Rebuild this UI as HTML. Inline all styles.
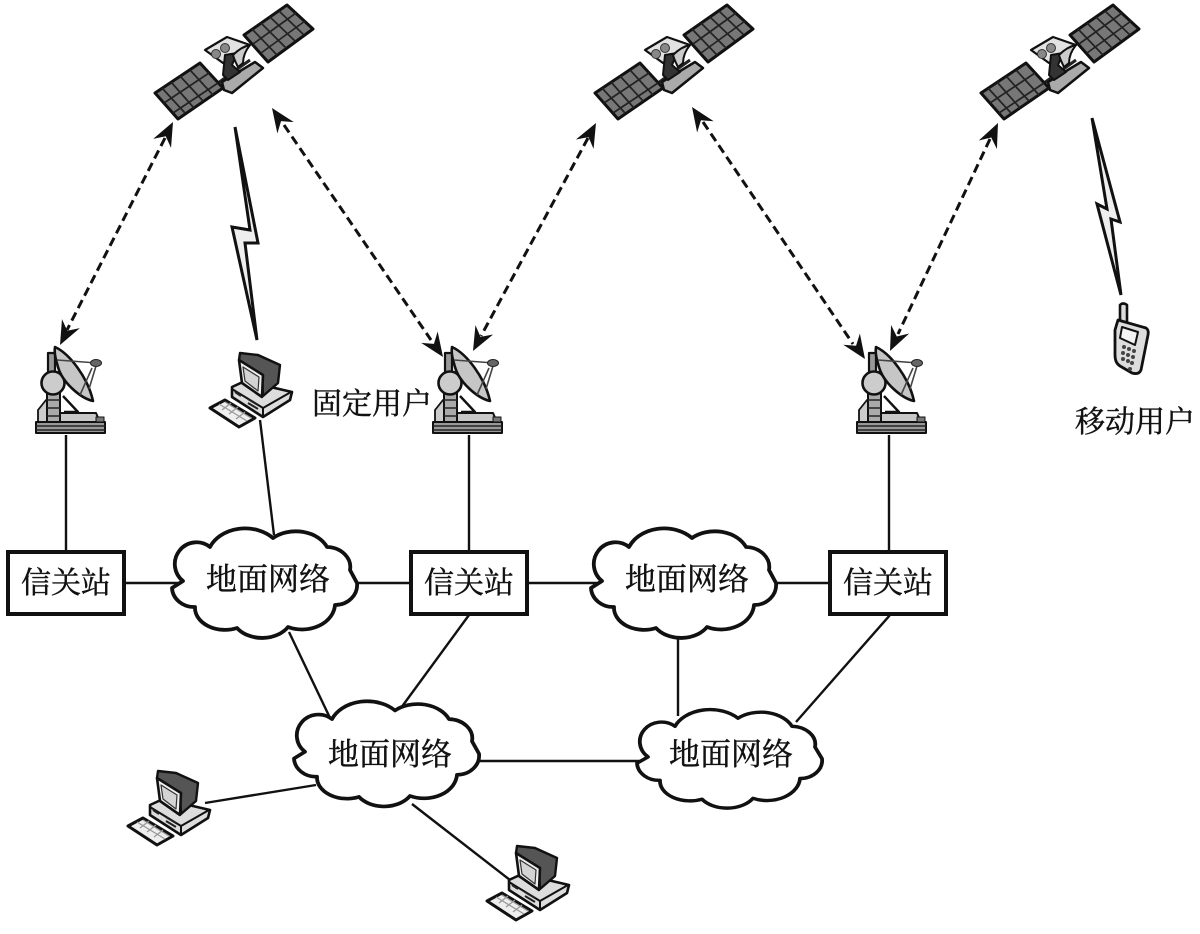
<!DOCTYPE html>
<html><head><meta charset="utf-8"><style>
html,body{margin:0;padding:0;background:#fff}
svg{display:block}
text{font-family:"Liberation Serif","Noto Serif CJK SC",serif;font-size:30px;fill:#111;stroke:#111;stroke-width:.45px}
.n{font-size:31px}
</style></head><body>
<svg width="1200" height="934" viewBox="0 0 1200 934" xmlns="http://www.w3.org/2000/svg">
<defs>
<g id="sat" stroke-linejoin="round">
  <line x1="218" y1="83" x2="250" y2="60" stroke="#222" stroke-width="3"/>
  <polygon points="155,93 200,63 223,88 178,119" fill="#777" stroke="#111" stroke-width="3"/>
  <g stroke="#222" stroke-width="1.7" fill="none">
    <path d="M164,103 L209,73 M173,113 L218,83 M162,88 L185,113 M171,82 L194,108 M180,76 L203,101 M190,70 L213,95"/>
  </g>
  <polygon points="244,35 287,5 313,29 268,62" fill="#777" stroke="#111" stroke-width="3"/>
  <g stroke="#222" stroke-width="1.7" fill="none">
    <path d="M253,44 L296,13 M261,53 L305,21 M252,29 L277,55 M261,23 L286,48 M270,17 L295,41 M279,11 L304,35"/>
  </g>
  <polygon points="205,50 227,37 250,45 223,63" fill="#e2e2e2" stroke="#111" stroke-width="2.2"/>
  <circle cx="216" cy="54" r="4.5" fill="#888" stroke="#333"/>
  <circle cx="225" cy="48" r="4.5" fill="#888" stroke="#333"/>
  <path d="M222,82 L255,62 L263,68 L232,93 L224,90 Z" fill="#aaa" stroke="#111" stroke-width="2.5"/>
  <path d="M225,55 L223,75 L228,80 L240,72 L232,65 L237,53 Z" fill="#333" stroke="#111" stroke-width="2"/>
  <path d="M233,55 C239,49 245,46 250,45 C246,50 243,56 243,63 L238,67 C236,63 234,59 233,55 Z" fill="#ccc" stroke="#111" stroke-width="2"/>
</g>
<g id="dish" stroke-linejoin="round">
  <path d="M48,353 L55,353 L55,385 L48,385 Z" fill="#999" stroke="#111" stroke-width="2.2"/>
  <path d="M38,422 L38,410 L46,400 L52,400 L52,422 Z" fill="#ccc" stroke="#111" stroke-width="1.8"/>
  <path d="M58,395 L58,413 L96,413 L100,422 L52,422 Z" fill="#c8c8c8" stroke="#111" stroke-width="2"/>
  <path d="M63,396 L78,412 L64,412" stroke="#111" stroke-width="2.4" fill="none"/>
  <rect x="47" y="392" width="13" height="30" fill="#aaa" stroke="#111" stroke-width="2"/>
  <path d="M47,400 H60 M47,408 H60 M47,416 H60" stroke="#222" stroke-width="1.5"/>
  <rect x="36" y="422" width="69" height="11" fill="#999" stroke="#111" stroke-width="2"/>
  <path d="M36,426 H105 M36,430 H105" stroke="#222" stroke-width="1.5"/>
  <rect x="96" y="417" width="8" height="5" fill="#777" stroke="#111"/>
  <circle cx="53" cy="383" r="11.5" fill="#ccc" stroke="#111" stroke-width="2.6"/>
  <path d="M55,347 C70,354 88,378 93,401 C80,398 62,382 58,367 C56,360 54,354 55,347 Z" fill="#c6c6c6" stroke="#111" stroke-width="2.6"/>
  <path d="M57,360 L97,363 M89,389 L96,366 M80,395 L92,368" stroke="#444" stroke-width="1.6" fill="none"/>
  <ellipse cx="96" cy="363" rx="5.5" ry="3.5" fill="#666" stroke="#222"/>
</g>
<g id="pc" stroke-linejoin="round">
  <path d="M232,387 L245,381 L292,392 L290,400 L263,417 L232,397 Z" fill="#ddd" stroke="#111" stroke-width="2.6"/>
  <path d="M232,389 L263,408 L291,392 M263,408 V417" fill="none" stroke="#111" stroke-width="2"/>
  <path d="M240,353 L258,355 L280,365 L278,383 L263,396 L262,375 L239,360 Z" fill="#555" stroke="#111" stroke-width="2.4"/>
  <path d="M239,360 L263,375 L262,397 L242,383 Z" fill="#eee" stroke="#111" stroke-width="2.6"/>
  <path d="M243,367 L259,377 L258,391 L245,381 Z" fill="#d4d4d4" stroke="#333" stroke-width="1.2"/>
  <path d="M248,399 L258,405 M248,403 L258,409 M235,392 L241,396" stroke="#222" stroke-width="2"/>
  <path d="M210,408 L225,400 L255,418 L239,427 Z" fill="#eee" stroke="#111" stroke-width="3"/>
  <path d="M219,404 L247,421 M225,402 L251,418 M222,410 L231,403 M229,414 L238,407 M236,419 L245,412" stroke="#999" stroke-width="1.3"/>
</g>
<g id="arrow"><polygon points="0,0 -10,24 0,16 10,24" fill="#111"/></g>
</defs>

<use href="#sat"/>
<use href="#sat" x="440"/>
<use href="#sat" x="826"/>

<g stroke="#111" stroke-width="3" stroke-dasharray="9 5" fill="none">
  <line x1="165" y1="138" x2="67" y2="330"/>
  <line x1="284" y1="125" x2="431" y2="340"/>
  <line x1="588" y1="138" x2="481" y2="336"/>
  <line x1="703" y1="122" x2="853" y2="344"/>
  <line x1="990" y1="139" x2="898" y2="334"/>
</g>
<use href="#arrow" transform="translate(173,122) rotate(27)"/>
<use href="#arrow" transform="translate(60,345) rotate(207)"/>
<use href="#arrow" transform="translate(272,108) rotate(-34.5)"/>
<use href="#arrow" transform="translate(443,357) rotate(145.5)"/>
<use href="#arrow" transform="translate(596,123) rotate(28)"/>
<use href="#arrow" transform="translate(473,351) rotate(208)"/>
<use href="#arrow" transform="translate(692,107) rotate(-34)"/>
<use href="#arrow" transform="translate(865,359) rotate(146)"/>
<use href="#arrow" transform="translate(998,123) rotate(25)"/>
<use href="#arrow" transform="translate(890,351) rotate(205)"/>

<polygon points="235,127 250,230 232,227 257,340 245,243 258,243" fill="#eee" stroke="#111" stroke-width="3" stroke-linejoin="miter"/>
<polygon points="1092,118 1107,209 1097,204 1121,295 1111,219 1120,222" fill="#eee" stroke="#111" stroke-width="3"/>

<use href="#dish"/>
<use href="#dish" x="397"/>
<use href="#dish" x="821"/>
<use href="#pc"/>
<use href="#pc" transform="translate(-82,418)"/>
<use href="#pc" transform="translate(277,493)"/>

<g stroke-linejoin="round">
  <path d="M1120,320 L1120,305 Q1123,302 1127,305 L1127,322" fill="#ddd" stroke="#111" stroke-width="2.6"/>
  <path d="M1118,320 L1146,328 Q1149,330 1148,335 L1141,370 Q1139,375 1132,373 L1120,366 Q1115,363 1115,355 L1115,330 Z" fill="#ddd" stroke="#111" stroke-width="2.8"/>
  <polygon points="1122,327 1138,332 1135,345 1120,338" fill="#f4f4f4" stroke="#111" stroke-width="2"/>
  <g fill="#444"><circle cx="1124" cy="347" r="2"/><circle cx="1129" cy="349" r="2"/><circle cx="1134" cy="351" r="2"/><circle cx="1123" cy="353" r="2"/><circle cx="1128" cy="355" r="2"/><circle cx="1133" cy="357" r="2"/><circle cx="1123" cy="359" r="2"/><circle cx="1128" cy="361" r="2"/><circle cx="1132" cy="363" r="2"/><circle cx="1130" cy="369" r="2"/></g>
</g>

<g stroke="#111" stroke-width="2.4" fill="none">
  <line x1="66" y1="435" x2="66" y2="551"/>
  <line x1="469" y1="435" x2="469" y2="551"/>
  <line x1="889" y1="435" x2="889" y2="551"/>
  <line x1="260" y1="420" x2="274" y2="535"/>
  <line x1="124" y1="583" x2="178" y2="583"/>
  <line x1="352" y1="583" x2="410" y2="583"/>
  <line x1="528" y1="583" x2="597" y2="583"/>
  <line x1="772" y1="583" x2="829" y2="583"/>
  <line x1="289" y1="632" x2="331" y2="720"/>
  <line x1="469" y1="615" x2="398" y2="712"/>
  <line x1="678" y1="635" x2="678" y2="716"/>
  <line x1="890" y1="615" x2="796" y2="722"/>
  <line x1="476" y1="761" x2="640" y2="761"/>
  <line x1="205" y1="803" x2="316" y2="785"/>
  <line x1="412" y1="804" x2="510" y2="880"/>
</g>

<g fill="#fff" stroke="#111" stroke-width="4">
  <rect x="8" y="552" width="116" height="62"/>
  <rect x="411" y="552" width="116" height="62"/>
  <rect x="830" y="552" width="116" height="62"/>
</g>

<g fill="#fff" stroke="#111" stroke-width="3.8" stroke-linejoin="round">
  <path id="c1" d="M172,588 L183,581 A17,17 0 0 1 210,547 A38,30 0 0 1 273,538 A34,26 0 0 1 327,547 A24,20 0 0 1 350,570 L357,583 A22,20 0 0 1 335,605 A33,26 0 0 1 288,627 A30,22 0 0 1 237,628 A30,22 0 0 1 195,607 A22,20 0 0 1 172,588 Z"/>
  <use href="#c1" x="419" y="0"/>
  <use href="#c1" transform="translate(122,194) scale(1,.96)"/>
  <use href="#c1" transform="translate(465,234) scale(1,.9)"/>
</g>

<g text-anchor="middle">
  <text x="66" y="593">信关站</text>
  <text x="469" y="593">信关站</text>
  <text x="888" y="593">信关站</text>
  <text class="n" x="268" y="590">地面网络</text>
  <text class="n" x="687" y="590">地面网络</text>
  <text class="n" x="390" y="765">地面网络</text>
  <text class="n" x="731" y="765">地面网络</text>
  <text x="372" y="414">固定用户</text>
  <text x="1135" y="432">移动用户</text>
</g>
</svg>
</body></html>
